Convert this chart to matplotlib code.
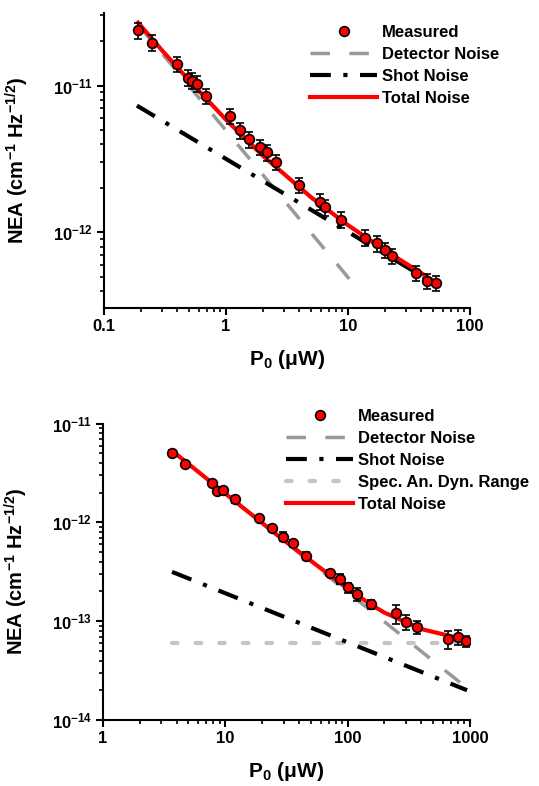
import matplotlib
matplotlib.use('Agg')
import matplotlib.pyplot as plt
import numpy as np
from matplotlib.ticker import LogLocator, NullFormatter, FixedLocator, FixedFormatter
from matplotlib.lines import Line2D

plt.rcParams['font.family'] = ['Liberation Sans', 'DejaVu Sans']
plt.rcParams['font.weight'] = 'bold'
plt.rcParams['mathtext.fontset'] = 'custom'
plt.rcParams['mathtext.rm'] = 'Liberation Sans:bold'
plt.rcParams['mathtext.bf'] = 'Liberation Sans:bold'
plt.rcParams['mathtext.it'] = 'Liberation Sans:bold'
plt.rcParams['mathtext.default'] = 'rm'
plt.rcParams['lines.scale_dashes'] = False

# ---- top panel data ----
p_top = [0.19, 0.247, 0.40, 0.49, 0.525, 0.58, 0.69, 1.08, 1.30, 1.54, 1.90, 2.17,
         2.57, 3.96, 5.9, 6.5, 8.8, 13.8, 17.3, 20.1, 22.9, 36.0, 44.5, 52.7]
nea_top = [2.37e-11, 1.96e-11, 1.40e-11, 1.13e-11, 1.08e-11, 1.03e-11, 8.5e-12, 6.2e-12,
           4.95e-12, 4.3e-12, 3.8e-12, 3.5e-12, 3.0e-12, 2.1e-12, 1.62e-12, 1.48e-12,
           1.22e-12, 9.2e-13, 8.4e-13, 7.6e-13, 6.9e-13, 5.3e-13, 4.65e-13, 4.5e-13]
err_top = [0.12] * len(p_top)

det_top_p = [0.19, 11.9]
det_top = [2.6e-11, 4.15e-13]
shot_top_p = [0.186, 53.0]
shot_top = [7.3e-12, 4.4e-13]
tot_top_p = [0.19, 0.3, 0.5, 1.0, 2.0, 5.0, 10.0, 20.0, 54.0]
tot_top = [2.68e-11, 1.73e-11, 1.08e-11, 5.85e-12, 3.33e-12, 1.73e-12, 1.12e-12, 7.57e-13, 4.5e-13]
xt_top = [0.1, 1, 10, 100]
xl_top = ['0.1', '1', '10', '100']
yt_top = [1e-12, 1e-11]

# ---- bottom panel data ----
p_bot = [3.7, 4.7, 7.8, 8.6, 9.6, 12.0, 18.9, 24.0, 29.6, 35.8, 45.6, 71.8, 86.6,
         100.0, 119.0, 155.0, 249.0, 300.0, 369.0, 662.0, 800.0, 929.0]
nea_bot = [5.1e-12, 3.9e-12, 2.52e-12, 2.1e-12, 2.14e-12, 1.72e-12, 1.1e-12, 8.8e-13,
           7.2e-13, 6.2e-13, 4.6e-13, 3.09e-13, 2.7e-13, 2.2e-13, 1.9e-13, 1.49e-13,
           1.2e-13, 9.9e-14, 8.8e-14, 6.6e-14, 6.96e-14, 6.3e-14]
err_bot = [0.05, 0.05, 0.06, 0.06, 0.06, 0.08, 0.06, 0.08, 0.1, 0.08, 0.1, 0.08, 0.12,
           0.12, 0.15, 0.1, 0.22, 0.18, 0.15, 0.2, 0.18, 0.12]

det_bot_p = [3.67, 946.0]
det_bot = [5.3e-12, 2.1e-14]
shot_bot_p = [3.67, 946.0]
shot_bot = [3.16e-13, 2.0e-14]
spec_bot_p = [3.67, 946.0]
spec_bot = [6.04e-14, 6.04e-14]
tot_bot_p = [3.67, 10.0, 30.0, 100.0, 158.0, 200.0, 400.0, 700.0, 946.0]
tot_bot = [5.32e-12, 1.96e-12, 6.62e-13, 2.13e-13, 1.45e-13, 1.22e-13, 8.33e-14, 7.04e-14, 6.6e-14]
xt_bot = [1, 10, 100, 1000]
xl_bot = ['1', '10', '100', '1000']
yt_bot = [1e-14, 1e-13, 1e-12, 1e-11]

fig = plt.figure(figsize=(5.39, 7.86), dpi=100)
ax1 = fig.add_axes([0.193, 0.608, 0.679, 0.375])
ax2 = fig.add_axes([0.191, 0.084, 0.681, 0.377])

red = '#ff0000'
grey = '#999999'
lgrey = '#c4c4c4'


def style(ax, xt, xl, yt, xpad):
    ax.set_xscale('log')
    ax.set_yscale('log')
    for s in ['top', 'right']:
        ax.spines[s].set_visible(False)
    for s in ['left', 'bottom']:
        ax.spines[s].set_linewidth(1.5)
    ax.tick_params(which='major', direction='out', length=5, width=1.5, labelsize=12, pad=3)
    ax.tick_params(which='minor', direction='out', length=3, width=1.2)
    ax.xaxis.set_major_locator(FixedLocator(xt))
    ax.xaxis.set_major_formatter(FixedFormatter(xl))
    ax.yaxis.set_major_locator(FixedLocator(yt))
    ax.xaxis.set_minor_locator(LogLocator(base=10, subs=np.arange(2, 10)))
    ax.yaxis.set_minor_locator(LogLocator(base=10, subs=np.arange(2, 10)))
    ax.xaxis.set_minor_formatter(NullFormatter())
    ax.yaxis.set_minor_formatter(NullFormatter())
    ax.set_ylabel(r'NEA (cm$^{-1}$ Hz$^{-1/2}$)', fontsize=14.5, fontweight='bold')
    ax.yaxis.set_label_coords(-0.2, 0.5)
    ax.set_xlabel(r'P$_{0}$ ($\mu$W)', fontsize=15, fontweight='bold', labelpad=xpad)


def measured(ax, p, v, e):
    v = np.array(v)
    ax.errorbar(p, v, yerr=v * np.array(e), fmt='o', color=red, mec='black', mew=1.2,
                ms=7, ecolor='black', elinewidth=1.2, capsize=3, capthick=1.2, zorder=5)


meas_handle = Line2D([], [], marker='o', ls='none', color=red, mec='black', mew=1.2, ms=7)

# top
style(ax1, xt_top, xl_top, yt_top, 10)
measured(ax1, p_top, nea_top, err_top)
d1, = ax1.plot(det_top_p, det_top, color=grey, lw=2.5, dashes=(14, 14), zorder=3)
s1, = ax1.plot(shot_top_p, shot_top, color='black', lw=3, dashes=(15, 9, 3, 9), zorder=3)
t1, = ax1.plot(tot_top_p, tot_top, color=red, lw=3, zorder=4)
ax1.set_xlim(0.1, 100)
ax1.set_ylim(3.05e-13, 3.1e-11)
ax1.legend([meas_handle, d1, s1, t1], ['Measured', 'Detector Noise', 'Shot Noise', 'Total Noise'],
           loc='upper left', bbox_to_anchor=(0.56, 0.979), bbox_transform=fig.transFigure,
           frameon=False, handlelength=4.0, handletextpad=0.3, labelspacing=0.42,
           borderpad=0, prop={'weight': 'bold', 'size': 12})

# bottom
style(ax2, xt_bot, xl_bot, yt_bot, 10)
measured(ax2, p_bot, nea_bot, err_bot)
d2, = ax2.plot(det_bot_p, det_bot, color=grey, lw=2.5, dashes=(14, 14), zorder=3)
s2, = ax2.plot(shot_bot_p, shot_bot, color='black', lw=3, dashes=(15, 9, 3, 9), zorder=3)
r2, = ax2.plot(spec_bot_p, spec_bot, color=lgrey, lw=3, dashes=(4, 13), dash_capstyle='round', zorder=2)
t2, = ax2.plot(tot_bot_p, tot_bot, color=red, lw=3, zorder=4)
ax2.set_xlim(1, 1000)
ax2.set_ylim(1e-14, 1e-11)
ax2.legend([meas_handle, d2, s2, r2, t2],
           ['Measured', 'Detector Noise', 'Shot Noise', 'Spec. An. Dyn. Range', 'Total Noise'],
           loc='upper left', bbox_to_anchor=(0.516, 0.49), bbox_transform=fig.transFigure,
           frameon=False, handlelength=4.0, handletextpad=0.3, labelspacing=0.42,
           borderpad=0, prop={'weight': 'bold', 'size': 12})

fig.savefig('out.png', dpi=100)
